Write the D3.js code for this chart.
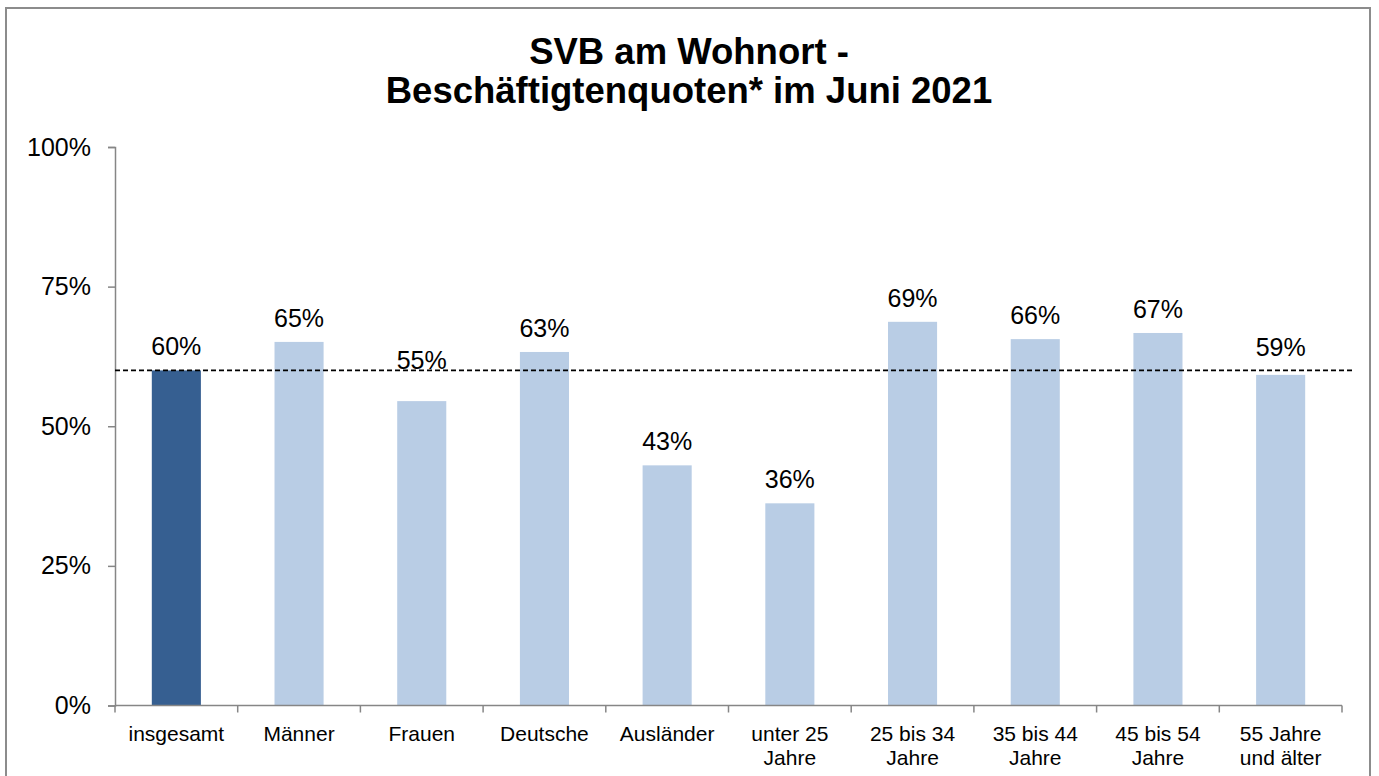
<!DOCTYPE html>
<html>
<head>
<meta charset="utf-8">
<script src="https://cdn.jsdelivr.net/npm/d3@7"></script>
<style>
  body { margin: 0; background: #fff; }
  text { font-family: "Liberation Sans", Arial, sans-serif; fill: #000; }
</style>
</head>
<body>
<div id="chart"></div>
<script>
var categories = ["insgesamt", "Männer", "Frauen", "Deutsche", "Ausländer", "unter 25\nJahre", "25 bis 34\nJahre", "35 bis 44\nJahre", "45 bis 54\nJahre", "55 Jahre\nund älter"];
var quoten = [60.0, 65.1, 54.5, 63.3, 43.0, 36.2, 68.7, 65.6, 66.7, 59.2];
var yTicks = [0, 25, 50, 75, 100];
var referenceValue = 60.0;
var titleLines = ["SVB am Wohnort -", "Beschäftigtenquoten* im Juni 2021"];

var width = 1379, height = 776;
var margin = { left: 115, right: 37, top: 147, bottom: 71 };
var plotRight = width - margin.right;
var plotBottom = height - margin.bottom;

// Frauen-Label ist im Original nach oben verschoben
var labelNudge = { "Frauen": -17, "55 Jahre\nund älter": -4 };

var svg = d3.select("#chart").append("svg")
    .attr("width", width)
    .attr("height", height);

svg.append("rect")
    .attr("x", 6).attr("y", 8)
    .attr("width", 1364).attr("height", 800)
    .attr("fill", "none")
    .attr("stroke", "#8c8c8c")
    .attr("stroke-width", 2);

var title = svg.append("text")
    .attr("text-anchor", "middle")
    .style("font-size", "36.5px")
    .style("font-weight", "bold");
titleLines.forEach(function (t, i) {
    title.append("tspan")
        .attr("x", 689)
        .attr("y", 64 + i * 39)
        .text(t);
});

var x = d3.scaleBand()
    .domain(categories)
    .range([margin.left, plotRight])
    .paddingInner(0.6)
    .paddingOuter(0.3);

var y = d3.scaleLinear()
    .domain([0, 100])
    .range([plotBottom + 0.5, margin.top]);

// y-Achse
var yAxis = svg.append("g")
    .attr("transform", "translate(" + margin.left + ",0)")
    .call(d3.axisLeft(y).tickValues(yTicks).tickFormat(function (d) { return d + "%"; }).tickSize(7).tickPadding(17));
yAxis.select(".domain").attr("stroke", "#868686").attr("stroke-width", 1.5);
yAxis.selectAll(".tick line").attr("stroke", "#868686").attr("stroke-width", 1.5);
yAxis.selectAll(".tick text")
    .style("font-size", "25px")
    .style("font-family", "'Liberation Sans', Arial, sans-serif")
    .attr("fill", "#000");

// Balken
svg.selectAll("rect.bar")
    .data(quoten)
    .enter().append("rect")
    .attr("class", "bar")
    .attr("x", function (d, i) { return x(categories[i]); })
    .attr("y", function (d) { return y(d); })
    .attr("width", x.bandwidth())
    .attr("height", function (d) { return y(0) - y(d); })
    .attr("fill", function (d, i) { return i == 0 ? "#365F91" : "#B9CDE5"; });

// x-Achse mit Ticks an den Kategoriegrenzen
var step = x.step();
var boundaries = d3.range(categories.length + 1).map(function (i) { return margin.left + i * step; });
svg.append("line")
    .attr("x1", margin.left).attr("x2", plotRight)
    .attr("y1", y(0)).attr("y2", y(0))
    .attr("stroke", "#868686").attr("stroke-width", 1.5);
svg.selectAll("line.xtick")
    .data(boundaries)
    .enter().append("line")
    .attr("class", "xtick")
    .attr("x1", function (d) { return d; }).attr("x2", function (d) { return d; })
    .attr("y1", y(0)).attr("y2", y(0) + 7)
    .attr("stroke", "#868686").attr("stroke-width", 1.5);

var catLabels = svg.selectAll("text.cat")
    .data(categories)
    .enter().append("text")
    .attr("class", "cat")
    .attr("text-anchor", "middle")
    .style("font-size", "21px");
catLabels.each(function (c) {
    var lines = c.split("\n");
    var t = d3.select(this);
    lines.forEach(function (l, j) {
        t.append("tspan")
            .attr("x", x(c) + x.bandwidth() / 2)
            .attr("y", y(0) + 35 + j * 24)
            .text(l);
    });
});

// Referenzlinie (insgesamt)
svg.append("line")
    .attr("x1", margin.left).attr("x2", plotRight + 13)
    .attr("y1", y(referenceValue)).attr("y2", y(referenceValue))
    .attr("stroke", "#000")
    .attr("stroke-width", 1.6)
    .attr("stroke-dasharray", "5,3");

// Werte
svg.selectAll("text.val")
    .data(quoten)
    .enter().append("text")
    .attr("class", "val")
    .attr("text-anchor", "middle")
    .attr("x", function (d, i) { return x(categories[i]) + x.bandwidth() / 2; })
    .attr("y", function (d, i) { return y(d) - 15 + (labelNudge[categories[i]] || 0); })
    .style("font-size", "25px")
    .text(function (d) { return Math.round(d) + "%"; });
</script>
</body>
</html>
